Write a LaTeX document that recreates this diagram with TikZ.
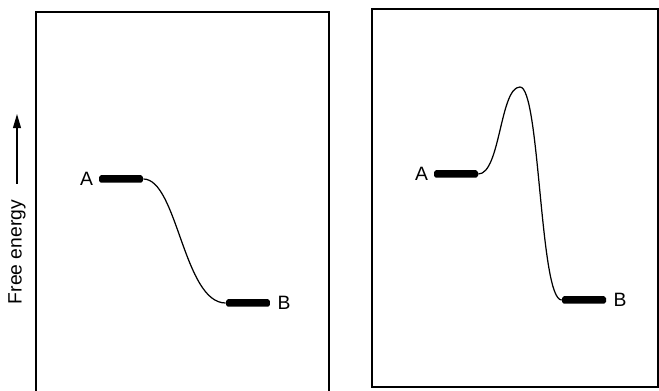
\documentclass[tikz,border=0pt]{standalone}
\usepackage{fontspec}
\setmainfont{Liberation Sans}
\usepackage{tikz}
\usetikzlibrary{arrows.meta,positioning,calc}

\tikzset{
  frame/.style={line width=1pt},
  bar/.style={fill=black, rounded corners=1pt, minimum width=0.88cm,
              minimum height=0.15cm, inner sep=0pt},
  lvl/.style={font=\fontsize{11}{13}\selectfont, inner sep=1pt},
  path/.style={line width=0.7pt}
}

\begin{document}
\begin{tikzpicture}[x=0.02cm, y=-0.02cm]
  \useasboundingbox (0,0) rectangle (659,391);

  % panels
  \draw[frame] (36,12) rectangle (329,393);
  \draw[frame] (372,9) rectangle (658,387);

  % axis label
  \node[rotate=90, font=\fontsize{11}{13}\selectfont, inner sep=0pt] (ylab) at (17,252) {Free energy};
  \coordinate (ytip) at (17,114);
  \draw[line width=0.7pt, -{Triangle[length=8pt,width=4.5pt]}] ($(ylab.east)+(0,-16)$) -- (ytip);

  % left: downhill
  \node[bar] (A1) at (121,179) {};
  \node[bar] (B1) at (248,303) {};
  \node[lvl, left=2pt of A1] {A};
  \node[lvl, right=3pt of B1] {B};
  \draw[path] (A1.east) .. controls +(34,0) and +(-42,0) .. (B1.west);

  % right: over a barrier
  \node[bar] (A2) at (456,174) {};
  \node[bar] (B2) at (584,300) {};
  \node[lvl, left=2pt of A2] {A};
  \node[lvl, right=3pt of B2] {B};
  \coordinate (peak) at (520,87);
  \draw[path] (A2.east) .. controls +(22,0) and +(-20,0) .. (peak)
                        .. controls +(20,0) and +(-22,0) .. (B2.west);
\end{tikzpicture}
\end{document}
